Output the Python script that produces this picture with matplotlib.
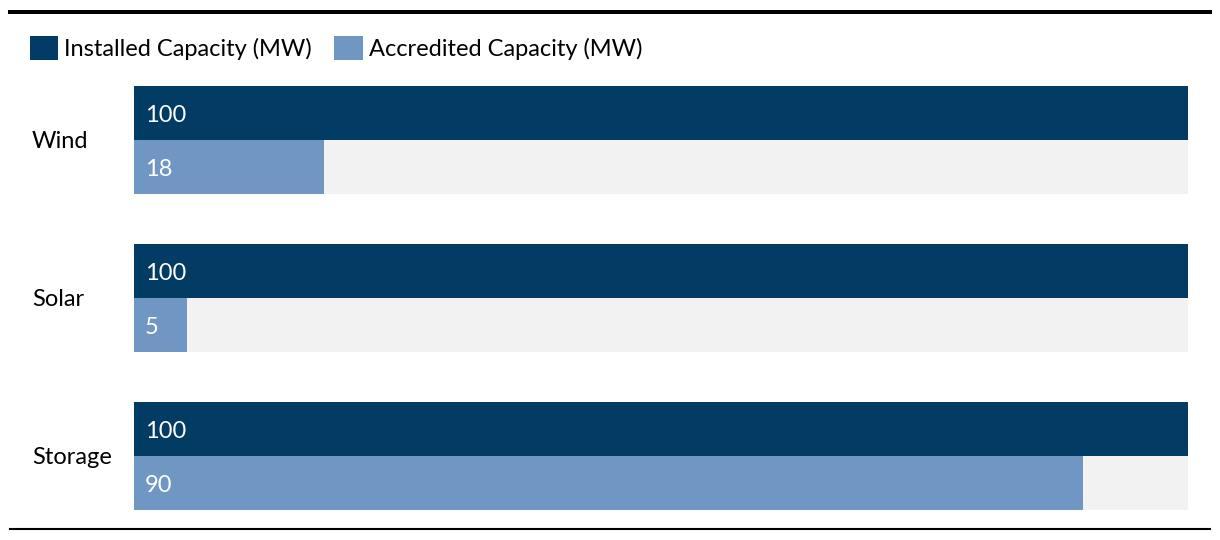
import numpy as np
import matplotlib.pyplot as plt
from matplotlib.lines import Line2D

plt.rcParams['font.family'] = ['Lato', 'DejaVu Sans']

categories = ["Wind", "Solar", "Storage"]
installed = [100, 100, 100]
accredited = [18, 5, 90]
max_value = 100

dark = '#023b63'
light = '#7096c4'
track = '#f2f2f2'
fs = 17

fig = plt.figure(figsize=(12.2, 5.4), dpi=100)
ax = fig.add_axes([134/1220, 1 - 510/540, 1054/1220, 424/540])

y = np.arange(len(categories))
h = 54/158

# grey track behind the accredited bars
ax.barh(y + h/2, [max_value]*len(categories), height=h, color=track, zorder=1)
b1 = ax.barh(y - h/2, installed, height=h, color=dark, label='Installed Capacity (MW)', zorder=2)
b2 = ax.barh(y + h/2, accredited, height=h, color=light, label='Accredited Capacity (MW)', zorder=2)

for i in range(len(categories)):
    ax.annotate(str(installed[i]), (0, y[i] - h/2), xytext=(8, -1.5), textcoords='offset points',
                va='center', ha='left', color='white', fontsize=fs, zorder=3)
    ax.annotate(str(accredited[i]), (0, y[i] + h/2), xytext=(8, -1.5), textcoords='offset points',
                va='center', ha='left', color='white', fontsize=fs, zorder=3)

ax.set_xlim(0, max_value)
ax.set_ylim(2 + h, -h)
ax.set_yticks(y)
ax.set_yticklabels(categories, fontsize=fs, ha='left')
ax.tick_params(axis='y', length=0, pad=(134 - 32) * 72 / 100)
ax.set_xticks([])
for s in ax.spines.values():
    s.set_visible(False)

fig.legend(handles=[b1, b2], loc='center left', bbox_to_anchor=(30/1220, 1 - 48/540),
           ncol=2, frameon=False, fontsize=fs, handlelength=1.19, handleheight=1.19,
           handletextpad=0.26, columnspacing=0.95, borderaxespad=0, borderpad=0)

fig.add_artist(Line2D([10/1220, 1210/1220], [1 - 12/540]*2, color='black', lw=2.9))
fig.add_artist(Line2D([10/1220, 1210/1220], [1 - 529/540]*2, color='black', lw=1.5))

fig.savefig('out.png', dpi=100)
